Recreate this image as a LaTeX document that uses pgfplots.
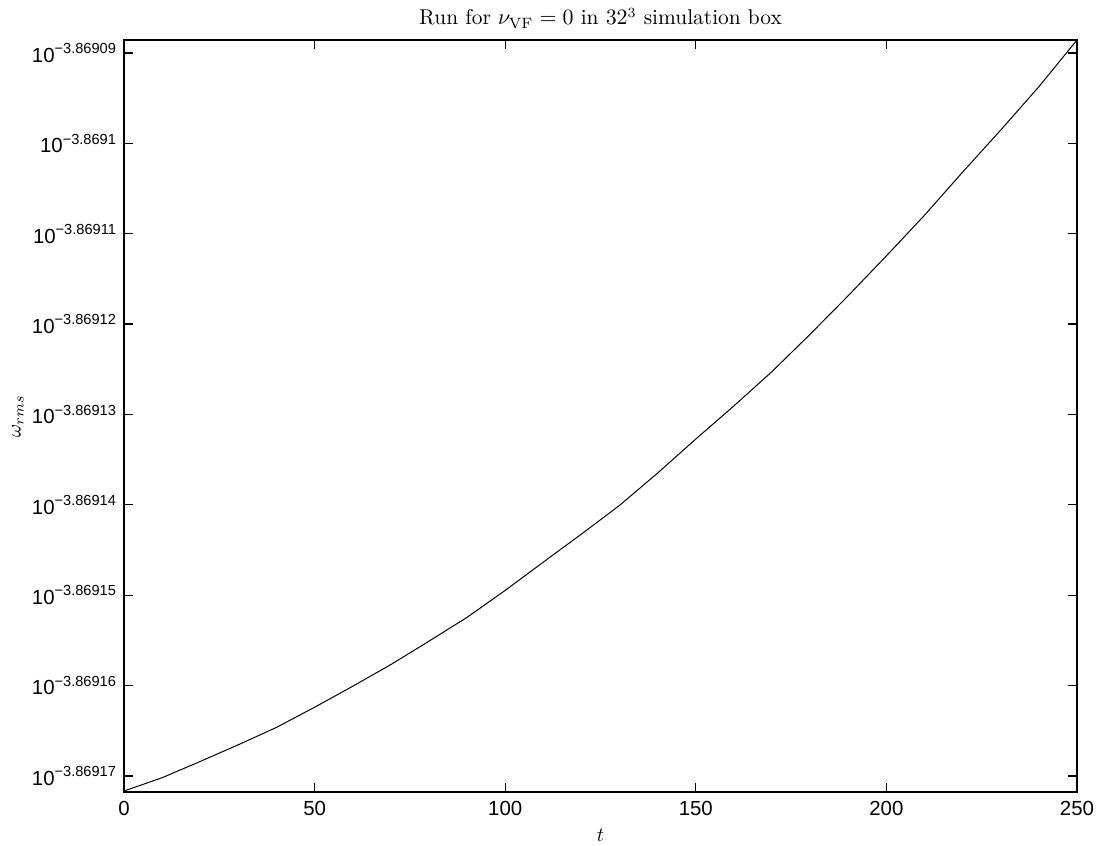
\documentclass[border=0pt]{standalone}
\usepackage{fontspec}
\usepackage{pgfplots}
\pgfplotsset{compat=1.18}
\newfontfamily\arial{Liberation Sans}
% y values: exponent of omega_rms, as (exponent + 3.8691) * 1e5
% so that 10^{-3.86909} -> 1, 10^{-3.8691} -> 0, ..., 10^{-3.86917} -> -7
\newcommand\ytl[1]{{\fontsize{10.2}{12}\selectfont 10}\raisebox{4.3pt}{\fontsize{7.3}{8}\selectfont −#1}}
\begin{document}
\begin{tikzpicture}
\begin{axis}[
  at={(0,0)}, anchor=south west,
  scale only axis,
  width=476.5pt, height=376pt,
  xmin=0, xmax=250,
  ymin=-7.178, ymax=1.144,
  axis line style={line width=0.8pt},
  tick style={black, line width=0.6pt},
  tick align=inside,
  major tick length=4.5pt,
  xtick={0,50,100,150,200,250},
  xticklabels={0,50,100,150,200,250},
  ytick={-7,-6,-5,-4,-3,-2,-1,0,1},
  yticklabels={
    \ytl{3.86917},\ytl{3.86916},\ytl{3.86915},\ytl{3.86914},\ytl{3.86913},
    \ytl{3.86912},\ytl{3.86911},\ytl{3.8691},\ytl{3.86909}},
  ticklabel style={font=\arial\fontsize{10.2}{12}\selectfont},
  xticklabel style={yshift=-1pt},
  yticklabel style={xshift=-0.5pt},
  title={Run for $\nu_{\mathrm{VF}}=0$ in $32^3$ simulation box},
  title style={font=\fontsize{10.7}{13}\selectfont, at={(axis description cs:0.5,1)}, anchor=base, yshift=1.5pt},
  xlabel={$t$},
  xlabel style={font=\fontsize{9.8}{11}\selectfont, at={(axis description cs:0.5,0)}, anchor=base, yshift=-24.5pt},
  ylabel={$\omega_{rms}$},
  ylabel style={font=\fontsize{9.8}{11}\selectfont, at={(axis description cs:-0.1114,0.5)}, anchor=center},
]
\addplot[black, line width=0.5pt] coordinates {
(0,-7.167) (10,-7.020) (20,-6.840) (30,-6.655) (40,-6.463)
(50,-6.240) (60,-6.008) (70,-5.768) (80,-5.509) (90,-5.245)
(100,-4.947) (110,-4.634) (120,-4.324) (130,-4.006) (140,-3.648)
(150,-3.272) (160,-2.905) (170,-2.525) (180,-2.112) (190,-1.685)
(200,-1.245) (210,-0.795) (220,-0.318) (230,0.148) (240,0.627)
(250,1.144)
};
\end{axis}
\pgfresetboundingbox
\path (-62pt,-26.5pt) rectangle (488.5pt,396pt);
\end{tikzpicture}
\end{document}
